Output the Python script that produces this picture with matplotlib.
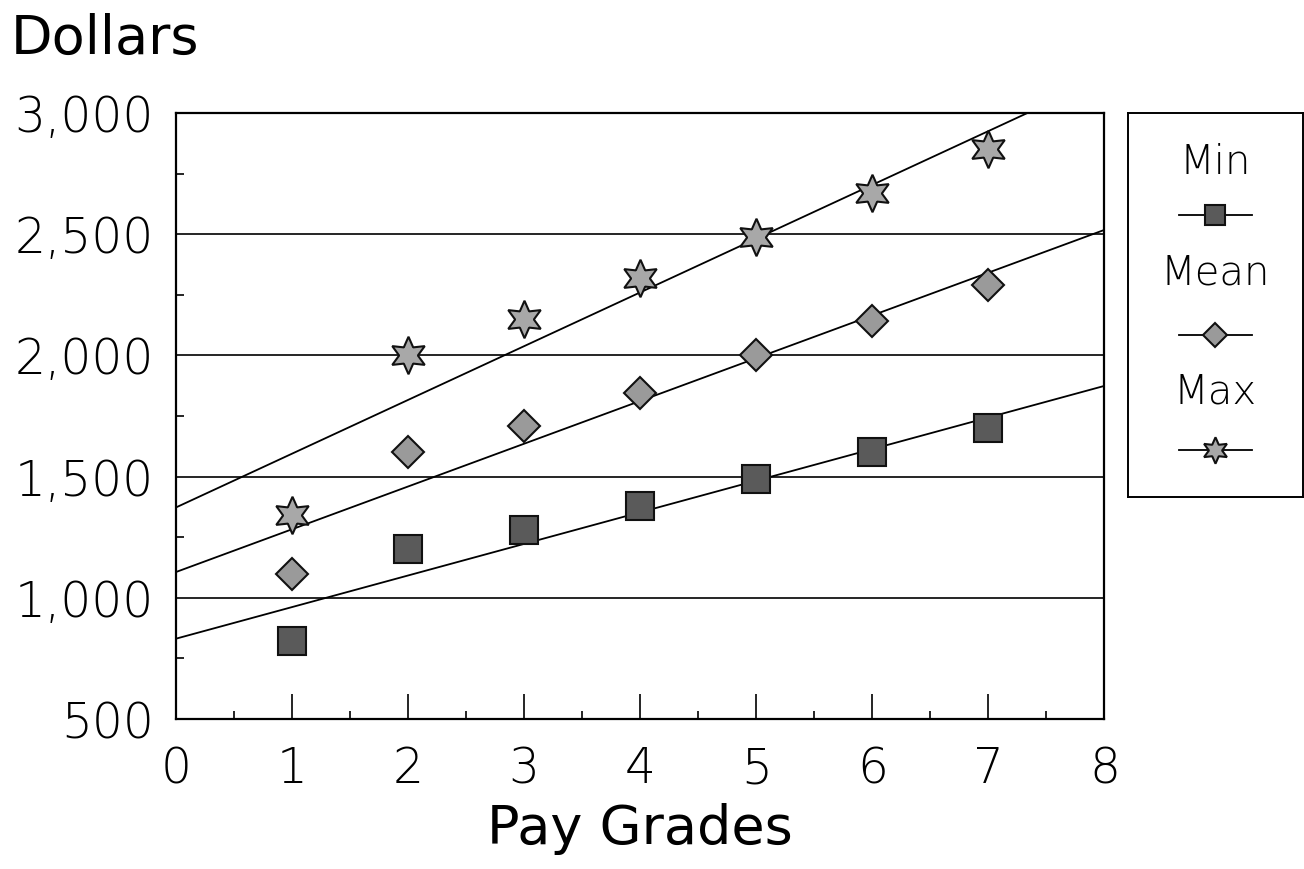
import numpy as np
import matplotlib
matplotlib.use("Agg")
import matplotlib.pyplot as plt

# data
grades = [1, 2, 3, 4, 5, 6, 7]
pay_min = [820, 1200, 1280, 1380, 1490, 1600, 1700]
pay_mean = [1100, 1600, 1710, 1845, 2000, 2140, 2290]
pay_max = [1340, 2000, 2150, 2320, 2490, 2670, 2850]
labels = ["Min", "Mean", "Max"]
yticks = [500, 1000, 1500, 2000, 2500, 3000]

plt.rcParams["font.family"] = "DejaVu Sans"

fig = plt.figure(figsize=(13.04, 8.69), dpi=100)
ax = fig.add_axes([0.135, 0.1726, 0.712, 0.6974])

styles = [
    dict(marker="s", ms=20, mfc="#5a5a5a"),
    dict(marker="D", ms=16, mfc="#9a9a9a"),
    dict(marker=(6, 1, 0), ms=27, mfc="#a8a8a8"),
]
series = [pay_min, pay_mean, pay_max]

fit_x = np.array([0, 8])
for vals, st in zip(series, styles):
    # trend line through each series
    k, b = np.polyfit(grades, vals, 1)
    ax.plot(fit_x, k * fit_x + b, color="black", lw=1.3, zorder=2)
    ax.plot(grades, vals, ls="none", mec="#111111", mew=1.5, zorder=3, **st)

ax.set_xlim(0, 8)
ax.set_ylim(500, 3000)
ax.set_yticks(yticks)
ax.set_yticklabels([f"{v:,}" for v in yticks])
ax.set_xticks(range(9))
ax.set_xticks(np.arange(0.5, 8, 1), minor=True)
ax.set_yticks(np.arange(750, 3000, 500), minor=True)
for v in yticks[1:-1]:
    ax.axhline(v, color="black", lw=1.2, zorder=1)

ax.tick_params(axis="both", which="major", direction="in", labelsize=35, width=1.2)
ax.tick_params(axis="x", which="major", length=18, pad=19)
ax.tick_params(axis="y", which="major", length=0, pad=16)
ax.tick_params(axis="both", which="minor", direction="in", length=6, width=1.2)
for lab in ax.get_xticklabels() + ax.get_yticklabels():
    lab.set_fontweight("light")
for s in ax.spines.values():
    s.set_linewidth(1.6)

ax.set_xlabel("Pay Grades", fontsize=39, labelpad=7)
fig.text(0.008, 0.955, "Dollars", fontsize=39, ha="left", va="center")

# legend box with labels above the samples
lg = fig.add_axes([0.865, 0.428, 0.134, 0.442])
lg.set_xlim(0, 1)
lg.set_ylim(0, 1)
lg.set_xticks([])
lg.set_yticks([])
for s in lg.spines.values():
    s.set_linewidth(1.4)
text_y = [0.87, 0.583, 0.273]
mark_y = [0.734, 0.422, 0.122]
leg_ms = [15, 12, 19]
for name, st, ty, my, ms in zip(labels, styles, text_y, mark_y, leg_ms):
    lg.text(0.5, ty, name, fontsize=29, fontweight="light", ha="center", va="center")
    st2 = dict(st)
    st2["ms"] = ms
    lg.plot([0.29, 0.5, 0.71], [my, my, my], color="black", lw=1.3,
            markevery=[1], mec="#111111", mew=1.5, **st2)

fig.savefig("out.png", dpi=100)
